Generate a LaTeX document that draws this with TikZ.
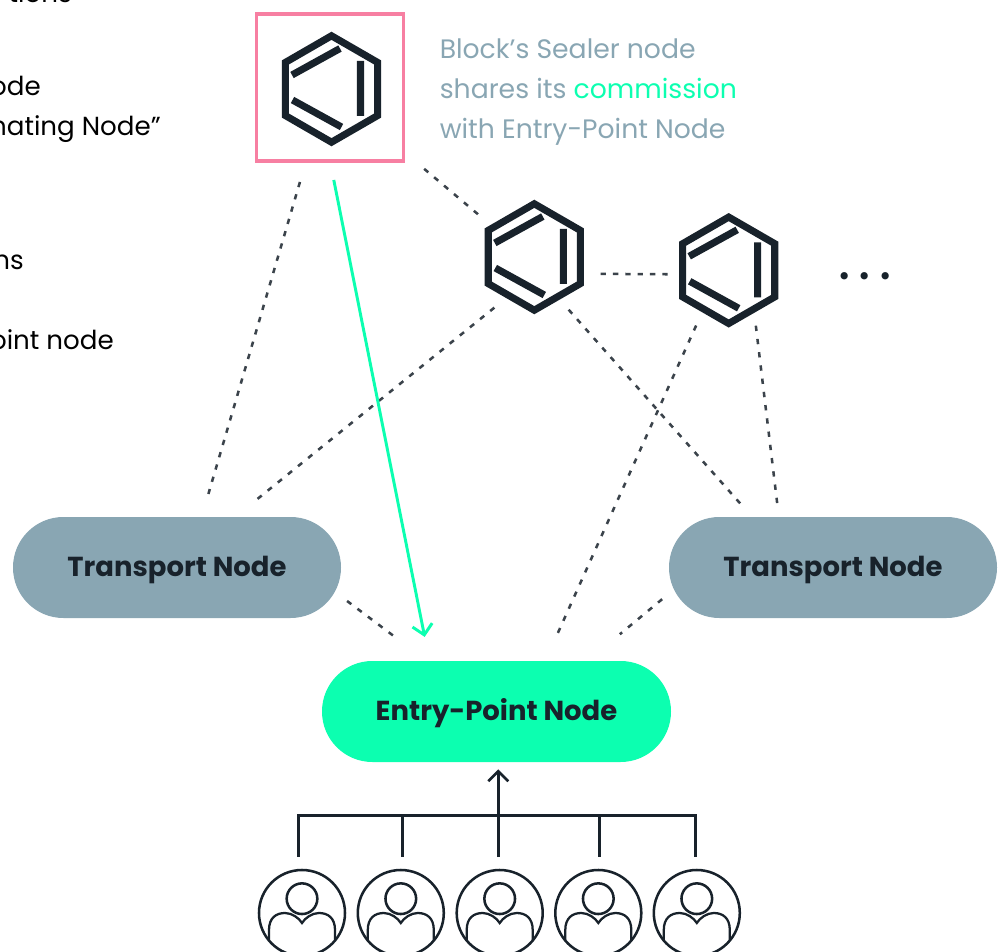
\documentclass[tikz,border=0pt]{standalone}
\usepackage{fontspec}
\setmainfont{Poppins}
\usetikzlibrary{arrows.meta,shapes.geometric}
\definecolor{inkdark}{HTML}{18222B}
\definecolor{slate}{HTML}{89A6B3}
\definecolor{mint}{HTML}{0CFFB0}
\definecolor{rose}{HTML}{F77FA2}
\begin{document}
\begin{tikzpicture}[x=0.75pt,y=-0.75pt,
    pill node/.style={rectangle, rounded corners=37.8pt, minimum width=246pt, minimum height=75.75pt, inner sep=0pt, outer sep=0pt, text=inkdark, text height=18.1pt, text depth=4pt, font=\fontsize{20.6}{24}\selectfont\bfseries},
    hex node/.style={regular polygon, regular polygon sides=6, shape border rotate=30, minimum size=79.8pt, inner sep=0pt, outer sep=0pt, draw=inkdark, line width=5.3pt, line join=miter},
    hex bar/.style={draw=inkdark, line width=5.3pt},
    dot edge/.style={draw=inkdark!85, line width=1.9pt, dash pattern=on 4pt off 5.75pt},
    side text/.style={anchor=base east, text=black, font=\fontsize{19.6}{30}\selectfont, inner sep=0pt},
    user node/.style={circle, draw=inkdark, line width=1.9pt, minimum size=64.5pt, inner sep=0pt, outer sep=0pt},
    head node/.style={circle, draw=inkdark, line width=1.9pt, minimum size=23pt, inner sep=0pt, outer sep=0pt},
    tree line/.style={draw=inkdark, line width=2pt}]
  \path[use as bounding box, clip] (0,0) rectangle (1004,952);

  % cut-off text on the left
  \node[side text] (t1) at (72,3) {tions};
  \node[side text] (t2) at (41,96) {ode};
  \node[side text] (t3) at (161,136) {nating Node”};
  \node[side text] (t4) at (24,270) {ns};
  \node[side text] (t5) at (114,350) {oint node};

  % sealer and the other hexagons
  \node[rectangle, draw=rose, line width=2.5pt, minimum size=110.25pt, inner sep=0pt, outer sep=0pt] (box) at (330,87.5) {};
  \foreach \n/\x/\y in {sealer/331.5/89, hop/534.3/257, last/728.7/270.3}{
    \node[hex node] (\n) at (\x,\y) {};
    \path[hex bar, shift={(\x,\y)}] (8.5,-40.5) -- (-39.5,-14) (29,-28) -- (29,27) (-39,11) -- (10,38);
  }
  \node[anchor=west, align=left, text=slate, inner sep=0pt, font=\fontsize{20}{30}\selectfont] (note) at (439.5,92) {Block’s Sealer node\\shares its \textcolor{mint}{commission}\\with Entry-Point Node};
  \node[inner sep=0pt, text=inkdark, font=\fontsize{44}{44}\selectfont] (more) at (865,276) {.\hspace{6pt}.\hspace{6pt}.};

  \node[pill node, fill=slate] (left) at (177,567.5) {Transport Node};
  \node[pill node, fill=slate] (right) at (833,567.5) {Transport Node};
  \node[pill node, fill=mint, minimum width=261.75pt] (entry) at (496.5,711.5) {Entry-Point Node};

  \path[dot edge]
    (box.252.8) edge[dash pattern=on 4pt off 5.6pt, shorten <=16.4pt, shorten >=18pt] (left.64.6)
    (box.319.4) edge[shorten <=20.3pt, shorten >=12.9pt] (hop.144.2)
    (hop.237) edge[shorten <=14.3pt, shorten >=21.5pt] (left.41.7)
    (hop.340.5) edge[dash pattern=on 4pt off 5.25pt, shorten <=15.2pt, shorten >=10.6pt] (last.185)
    (hop.300.2) edge[dash pattern=on 4pt off 5.5pt, shorten <=12.8pt, shorten >=13pt] (right.148.2)
    (last.237.3) edge[dash pattern=on 4pt off 5.95pt, shorten <=13.6pt, shorten >=23pt] (entry.46.6)
    (last.303.1) edge[dash pattern=on 4pt off 6pt, shorten <=12.6pt, shorten >=9.8pt] (right.137.7)
    (left.350) edge[shorten <=5.7pt, shorten >=31.9pt] (entry.144.9)
    (right.189.7) edge[shorten <=6.7pt, shorten >=31.4pt] (entry.29.4);
  \draw[mint, line width=2.2pt, -{Straight Barb[length=7.5pt,width=15pt]}, shorten <=14.5pt, shorten >=18.4pt] (box.270.8) -- (entry.143.3);

  % users
  \foreach \i/\x in {1/302,2/400.8,3/499.7,4/598.3,5/696.8}{
    \node[user node] (u\i) at (\x,913) {};
    \node[head node] (h\i) at (\x,898.7) {};
    \draw[inkdark, line width=1.7pt, shift={(\x,913)}] (-33,27.6) -- (-33,17) .. controls (-33,5) and (-26,0) .. (-17,0) .. controls (-10,0) and (-3,5) .. (0,10) .. controls (3,5) and (10,0) .. (17,0) .. controls (26,0) and (33,5) .. (33,17) -- (33,27.6);
  }
  \foreach \i/\x in {1/298.3,2/402.3,3/498.3,4/599.3,5/695.7}
    \coordinate (bus\i) at (\x,815.7);
  \draw[tree line, line cap=rect] (bus1) -- (bus5);
  \foreach \i in {1,2,4,5}
    \draw[tree line, shorten >=9.75pt] (bus\i) -- (bus\i |- u\i.north);
  \draw[tree line, -{Straight Barb[length=7.5pt,width=15pt]}, shorten <=9.75pt, shorten >=5.5pt] (bus3 |- u3.north) -- (bus3 |- entry.south);
\end{tikzpicture}
\end{document}
